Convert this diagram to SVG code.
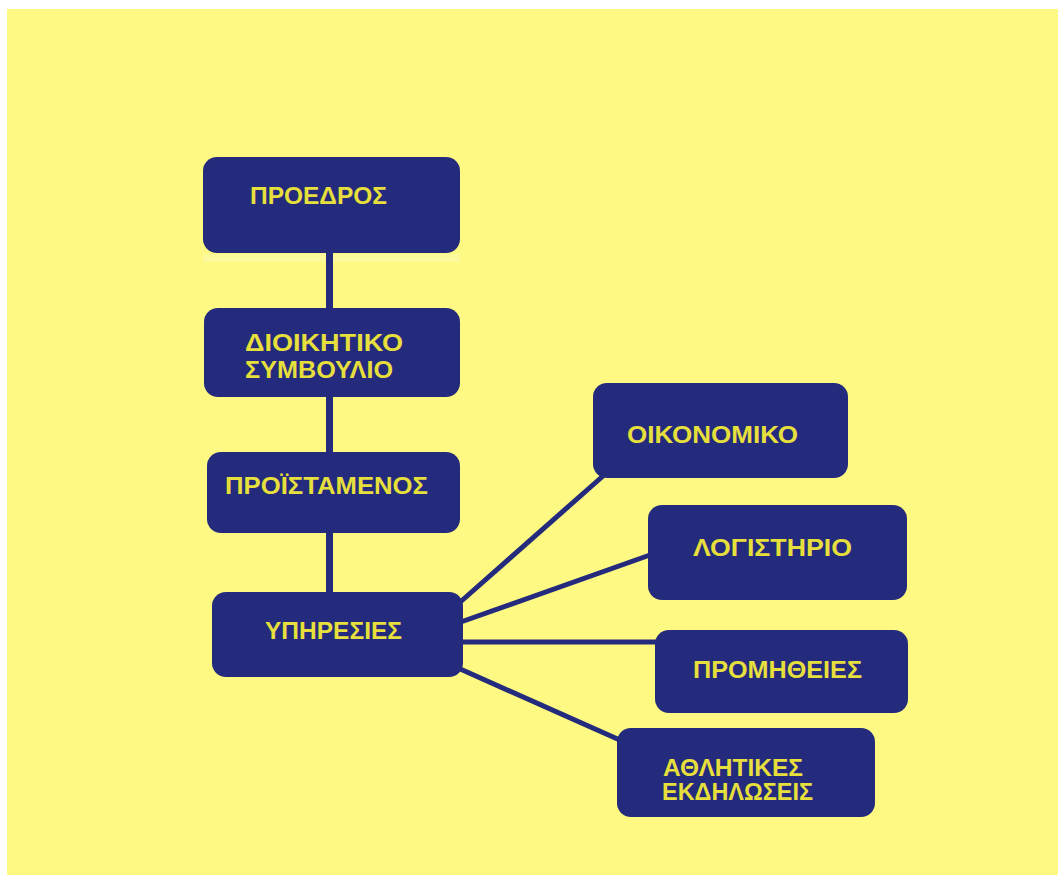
<svg xmlns="http://www.w3.org/2000/svg" width="1058" height="875" viewBox="0 0 1058 875">
<style>
.box{fill:#242b7d;}
.lbl{font-family:"Liberation Sans","DejaVu Sans",sans-serif;font-size:23px;font-weight:bold;fill:#e6df3c;}
.con{stroke:#242b7d;fill:none;stroke-linecap:butt;}
</style>
<rect x="0" y="0" width="1058" height="875" fill="#ffffff"/>
<rect x="7" y="9" width="1051" height="866" fill="#fdf982"/>
<rect x="203" y="254" width="257" height="8" fill="#fdfa9e"/>
<g id="connectors">
<line class="con" x1="329.5" y1="250" x2="329.5" y2="594" stroke-width="7"/>
<line class="con" x1="458" y1="604" x2="603" y2="476" stroke-width="5"/>
<line class="con" x1="458" y1="623" x2="650" y2="555" stroke-width="5"/>
<line class="con" x1="458" y1="642" x2="658" y2="642" stroke-width="5"/>
<line class="con" x1="458" y1="668" x2="622" y2="741" stroke-width="5"/>
</g>
<g id="n-proedros">
<rect class="box" x="203" y="157" width="257" height="96" rx="14"/>
<text class="lbl" x="250" y="204" textLength="137" lengthAdjust="spacingAndGlyphs">ΠΡΟΕΔΡΟΣ</text>
</g>
<g id="n-dioikitiko">
<rect class="box" x="204" y="308" width="256" height="89" rx="14"/>
<text class="lbl" x="245" y="351" textLength="158" lengthAdjust="spacingAndGlyphs">ΔΙΟΙΚΗΤΙΚΟ</text>
<text class="lbl" x="245" y="378" textLength="148" lengthAdjust="spacingAndGlyphs">ΣΥΜΒΟΥΛΙΟ</text>
</g>
<g id="n-proistamenos">
<rect class="box" x="207" y="452" width="253" height="81" rx="14"/>
<text class="lbl" x="225" y="494" textLength="203" lengthAdjust="spacingAndGlyphs">ΠΡΟΪΣΤΑΜΕΝΟΣ</text>
</g>
<g id="n-ypiresies">
<rect class="box" x="212" y="592" width="251" height="85" rx="14"/>
<text class="lbl" x="265" y="639" textLength="137" lengthAdjust="spacingAndGlyphs">ΥΠΗΡΕΣΙΕΣ</text>
</g>
<g id="n-oikonomiko">
<rect class="box" x="593" y="383" width="255" height="95" rx="14"/>
<text class="lbl" x="627" y="443" textLength="171" lengthAdjust="spacingAndGlyphs">ΟΙΚΟΝΟΜΙΚΟ</text>
</g>
<g id="n-logistirio">
<rect class="box" x="648" y="505" width="259" height="95" rx="14"/>
<text class="lbl" x="693" y="556" textLength="159" lengthAdjust="spacingAndGlyphs">ΛΟΓΙΣΤΗΡΙΟ</text>
</g>
<g id="n-promitheies">
<rect class="box" x="655" y="630" width="253" height="83" rx="14"/>
<text class="lbl" x="693" y="678" textLength="169" lengthAdjust="spacingAndGlyphs">ΠΡΟΜΗΘΕΙΕΣ</text>
</g>
<g id="n-athlitikes">
<rect class="box" x="617" y="728" width="258" height="89" rx="14"/>
<text class="lbl" x="663" y="776" textLength="140" lengthAdjust="spacingAndGlyphs">ΑΘΛΗΤΙΚΕΣ</text>
<text class="lbl" x="662" y="800" textLength="151" lengthAdjust="spacingAndGlyphs">ΕΚΔΗΛΩΣΕΙΣ</text>
</g>
</svg>
